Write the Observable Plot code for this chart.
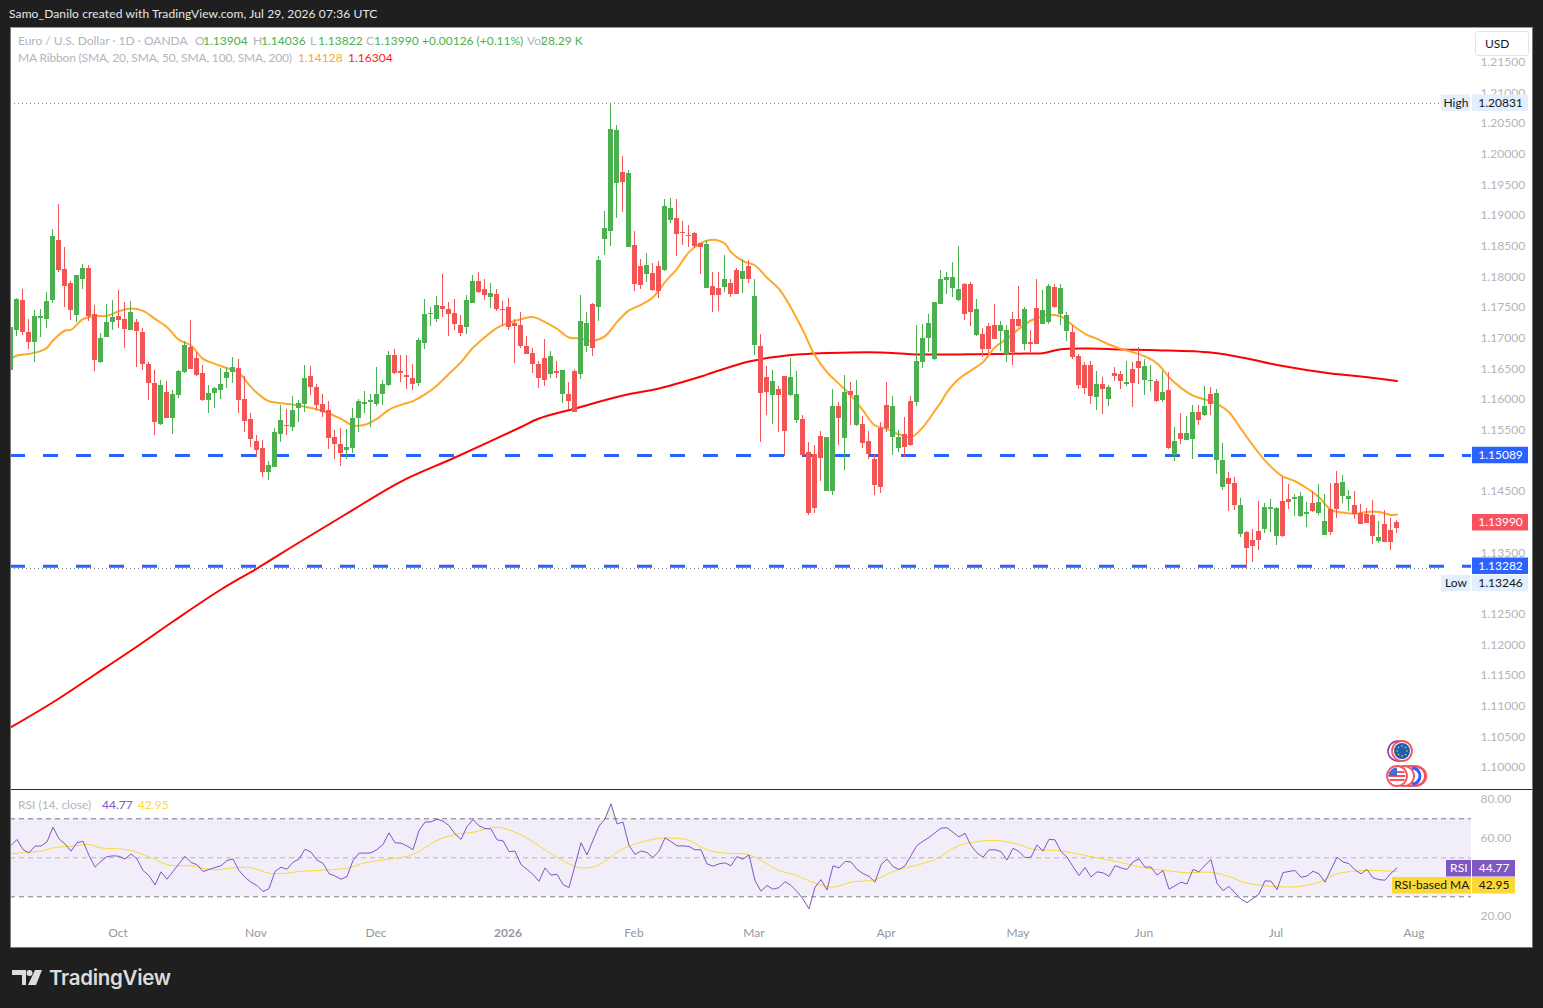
<!DOCTYPE html>
<html><head><meta charset="utf-8">
<script src="https://cdn.jsdelivr.net/npm/d3@7"></script>
<script src="https://cdn.jsdelivr.net/npm/@observablehq/plot@0.6"></script>
<style>
html,body{margin:0;padding:0;background:#1f1f1f;width:1543px;height:1008px;overflow:hidden;font-family:Lato,sans-serif;}
#panel{position:absolute;left:10px;top:27px;width:1523px;height:921px;background:#fff;}
#frame{position:absolute;left:10px;top:27px;width:1523px;height:921px;box-sizing:border-box;border:1px solid #7a7a7a;border-top-color:#9a9a9a;pointer-events:none;}
#sep{position:absolute;left:10px;top:789px;width:1523px;height:1px;background:#2a2e39;}
svg.p{position:absolute;}
.t{position:absolute;white-space:nowrap;font-size:12px;line-height:14px;}
.g{color:#b2b5be}.u{color:#4caf50}
#usd{position:absolute;left:1475px;top:31px;width:54px;height:25px;box-sizing:border-box;border:1px solid #e0e3eb;border-radius:3px;background:#fff;font-size:12px;line-height:24px;padding-left:9px;color:#131722;}
#logo{position:absolute;left:49px;top:964px;font:600 20.5px Inter,sans-serif;line-height:28px;color:#dcdcdc;letter-spacing:-0.3px;}
#by{position:absolute;left:9px;top:7px;font-size:12px;line-height:14px;color:#e6e6e6;white-space:nowrap;letter-spacing:.12px;}
</style></head><body>
<div id="panel"></div>
<div id="by">Samo_Danilo created with TradingView.com, Jul 29, 2026 07:36 UTC</div>
<script>
const direction = ("GGRRGGGGRRRGGRRGGGRRGRRRRGRGGGRRRGGGGGRRRRRGGGRGGGRRRRRRGGG"+"GGGGGRRRRGGGGRRRRGGRRGRRRRRRRRRGRGRRGGRGGGGRGRRGRRGGRRRRRGRRGRRGRGRRGRRGGRRRRGGRGRGRRRRRGGRRGGGGGGGGRRGRRRGGRRGRRGGRGGRRRRGRGRRGRRGGRGRGRGGRGRGGRRGRRRGGGRRGGGRGGRRGGRRRRGRRRGG").split("");
const highs = [1.17600,1.17654,1.17796,1.17306,1.17453,1.17469,1.17747,1.18774,1.19182,1.18480,
1.17926,1.18024,1.18203,1.18187,1.17535,1.17078,1.17551,1.17616,1.17779,1.17584,
1.17600,1.17306,1.17160,1.16605,1.16475,1.16311,1.16295,1.16148,1.16475,1.16947,
1.17290,1.16768,1.16556,1.16230,1.16197,1.16507,1.16523,1.16687,1.16654,1.16377,
1.15773,1.15415,1.15333,1.14985,1.15529,1.15904,1.15839,1.16051,1.15985,1.16556,
1.16540,1.16246,1.16083,1.15969,1.15496,1.15529,1.15512,1.15855,1.16002,1.16133,
1.16084,1.16524,1.16312,1.16785,1.16818,1.16720,1.16720,1.16573,1.16997,1.17633,
1.17503,1.17682,1.18041,1.17584,1.17633,1.17372,1.17698,1.18025,1.18073,1.17959,
1.17894,1.17796,1.17601,1.17650,1.17307,1.17421,1.17030,1.16834,1.16622,1.16981,
1.16785,1.16622,1.16475,1.16280,1.16492,1.17698,1.17421,1.17568,1.18334,1.19068,
1.20831,1.20471,1.19965,1.19737,1.18742,1.18285,1.18383,1.18220,1.18253,1.19264,
1.19280,1.19264,1.18905,1.18840,1.18726,1.18541,1.18595,1.18073,1.18073,1.18350,
1.17959,1.18138,1.18285,1.18269,1.17959,1.17062,1.16540,1.16475,1.16214,1.16377,
1.16671,1.16458,1.15741,1.15301,1.15252,1.15480,1.15382,1.16165,1.15953,1.16393,
1.16279,1.16312,1.15725,1.15480,1.15105,1.15627,1.16279,1.16051,1.15496,1.15708,
1.16051,1.17209,1.17225,1.17388,1.17584,1.18106,1.18073,1.18236,1.18497,1.17894,
1.17910,1.17633,1.17160,1.17241,1.17551,1.17274,1.17209,1.17421,1.17845,1.17502,
1.17127,1.17959,1.17779,1.17877,1.17877,1.17877,1.17420,1.17208,1.16735,1.16605,
1.16621,1.16458,1.16360,1.16230,1.16523,1.16458,1.16621,1.16605,1.16849,1.16654,
1.16556,1.16327,1.16458,1.16442,1.15545,1.15773,1.15724,1.15903,1.15903,1.16213,
1.16197,1.16164,1.15284,1.14811,1.14729,1.14387,1.13849,1.13881,1.14338,1.14305,
1.14370,1.14240,1.14729,1.14615,1.14452,1.14485,1.14322,1.14501,1.14615,1.14452,
1.14631,1.14827,1.14762,1.14517,1.14501,1.14289,1.14224,1.14354,1.14012,1.14191,
1.14061,1.14036];
const bodyTops = [1.17176,1.17632,1.17616,1.17094,1.17355,1.17355,1.17600,1.18660,1.18595,1.18122,
1.17893,1.18024,1.18138,1.18138,1.17388,1.16996,1.17257,1.17339,1.17355,1.17306,
1.17420,1.17257,1.17094,1.16572,1.16263,1.16230,1.16116,1.16083,1.16458,1.16882,
1.16850,1.16670,1.16426,1.16100,1.16181,1.16246,1.16442,1.16523,1.16507,1.16002,
1.15675,1.15317,1.15203,1.14925,1.15463,1.15659,1.15578,1.15822,1.15936,1.16344,
1.16377,1.16197,1.15920,1.15822,1.15382,1.15268,1.15219,1.15692,1.15969,1.15953,
1.15986,1.16084,1.16247,1.16720,1.16720,1.16459,1.16394,1.16345,1.16965,1.17389,
1.17405,1.17535,1.17519,1.17470,1.17405,1.17209,1.17617,1.17927,1.17927,1.17796,
1.17731,1.17715,1.17470,1.17503,1.17242,1.17209,1.16867,1.16753,1.16573,1.16671,
1.16704,1.16459,1.16475,1.16084,1.16459,1.17274,1.17242,1.17552,1.18269,1.18791,
1.20406,1.20389,1.19704,1.19688,1.18514,1.18171,1.18188,1.18057,1.18171,1.19150,
1.19117,1.18954,1.18726,1.18677,1.18710,1.18541,1.18530,1.17845,1.17812,1.17959,
1.17894,1.18106,1.18089,1.18171,1.17682,1.16866,1.16361,1.16295,1.16165,1.16377,
1.16361,1.16083,1.15676,1.15138,1.15105,1.15399,1.15382,1.15888,1.15888,1.16116,
1.16132,1.16067,1.15594,1.15317,1.15023,1.15529,1.15904,1.15888,1.15382,1.15431,
1.15969,1.16622,1.16997,1.17241,1.17584,1.17959,1.17992,1.17992,1.17796,1.17877,
1.17877,1.17470,1.17062,1.17192,1.17209,1.17209,1.17127,1.17307,1.17307,1.17470,
1.16932,1.17486,1.17453,1.17844,1.17828,1.17811,1.17371,1.17094,1.16703,1.16556,
1.16556,1.16246,1.16246,1.16197,1.16425,1.16409,1.16279,1.16491,1.16621,1.16539,
1.16311,1.16295,1.16115,1.16148,1.15316,1.15447,1.15447,1.15789,1.15789,1.15887,
1.16083,1.16099,1.15006,1.14713,1.14631,1.14273,1.13832,1.13702,1.13849,1.14240,
1.14240,1.14224,1.14338,1.14370,1.14403,1.14419,1.14158,1.14305,1.14322,1.14012,
1.14207,1.14631,1.14648,1.14419,1.14273,1.14142,1.14126,1.14110,1.13751,1.13963,
1.13865,1.13990];
const bodyBottoms = [1.16475,1.17127,1.17094,1.16931,1.16931,1.17323,1.17306,1.17616,1.18105,1.17844,
1.17453,1.17371,1.17959,1.17355,1.16638,1.16605,1.17013,1.17257,1.17290,1.17143,
1.17127,1.17110,1.16572,1.16263,1.15627,1.15594,1.15692,1.15692,1.16067,1.16442,
1.16491,1.16393,1.15985,1.15985,1.16100,1.16148,1.16344,1.16442,1.15985,1.15643,
1.15349,1.15170,1.14811,1.14811,1.14893,1.15431,1.15561,1.15545,1.15855,1.15920,
1.16197,1.15904,1.15790,1.15366,1.15268,1.15121,1.15170,1.15203,1.15692,1.15921,
1.15953,1.15921,1.16084,1.16231,1.16426,1.16426,1.16361,1.16247,1.16263,1.16916,
1.17389,1.17307,1.17470,1.17389,1.17225,1.17079,1.17177,1.17568,1.17747,1.17698,
1.17666,1.17470,1.17454,1.17177,1.17193,1.16867,1.16736,1.16573,1.16345,1.16312,
1.16410,1.16426,1.16084,1.15970,1.15790,1.16410,1.16867,1.16834,1.17503,1.18612,
1.18742,1.19525,1.19541,1.18481,1.17878,1.17861,1.18041,1.17780,1.17764,1.18106,
1.18921,1.18693,1.18710,1.18660,1.18497,1.18481,1.17812,1.17698,1.17698,1.17828,
1.17714,1.17714,1.17959,1.17959,1.16883,1.16100,1.16116,1.16067,1.16067,1.15480,
1.16067,1.15659,1.15089,1.14143,1.14224,1.15040,1.14502,1.14502,1.15692,1.15366,
1.16067,1.15578,1.15284,1.15105,1.14599,1.14567,1.15529,1.15382,1.15203,1.15219,
1.15252,1.15953,1.16605,1.16997,1.16654,1.17551,1.17943,1.17812,1.17616,1.17388,
1.17421,1.17046,1.16817,1.16817,1.16980,1.17111,1.16736,1.16768,1.17192,1.16899,
1.16899,1.16899,1.17224,1.17257,1.17502,1.17387,1.17110,1.16686,1.16230,1.16181,
1.16050,1.16034,1.16164,1.16001,1.16376,1.16295,1.16246,1.16262,1.16507,1.16311,
1.16295,1.15969,1.15985,1.15202,1.15088,1.15349,1.15333,1.15349,1.15659,1.15740,
1.15920,1.15006,1.14566,1.14615,1.14273,1.13800,1.13571,1.13604,1.13702,1.13881,
1.14207,1.13767,1.13767,1.14322,1.14370,1.14093,1.14126,1.14175,1.14142,1.13783,
1.13832,1.14207,1.14419,1.14370,1.14126,1.13963,1.13979,1.13767,1.13685,1.13669,
1.13669,1.13904];
const lows = [1.16475,1.17029,1.17045,1.16817,1.16605,1.17013,1.17160,1.17567,1.18073,1.17502,
1.17290,1.17257,1.17796,1.17274,1.16458,1.16589,1.17013,1.17127,1.17160,1.16833,
1.17127,1.16523,1.16475,1.15985,1.15415,1.15578,1.15692,1.15431,1.16018,1.16426,
1.16491,1.16377,1.15969,1.15773,1.15855,1.16002,1.16181,1.16263,1.15773,1.15463,
1.15219,1.15056,1.14730,1.14681,1.14893,1.15300,1.15415,1.15480,1.15627,1.15790,
1.16067,1.15822,1.15708,1.15186,1.15023,1.14909,1.15023,1.15121,1.15463,1.15774,
1.15546,1.15888,1.15905,1.16214,1.16410,1.16280,1.16165,1.16149,1.16214,1.16818,
1.17193,1.17258,1.17340,1.17030,1.17128,1.17030,1.17062,1.17568,1.17731,1.17617,
1.17486,1.17437,1.17193,1.17128,1.16589,1.16834,1.16736,1.16426,1.16182,1.16214,
1.16345,1.16345,1.15937,1.15839,1.15790,1.16329,1.16769,1.16704,1.17274,1.18351,
1.18497,1.18954,1.19052,1.18481,1.17764,1.17796,1.17910,1.17764,1.17650,1.18090,
1.18873,1.18334,1.18514,1.18481,1.18465,1.18040,1.17812,1.17421,1.17437,1.17747,
1.17665,1.17714,1.17731,1.17894,1.16719,1.15301,1.15741,1.15594,1.15464,1.15072,
1.16051,1.15611,1.15089,1.14110,1.14143,1.14665,1.14502,1.14436,1.15252,1.14844,
1.15578,1.15562,1.15203,1.15023,1.14436,1.14469,1.15464,1.15089,1.15138,1.15056,
1.15235,1.15888,1.16508,1.16768,1.16638,1.17551,1.17714,1.17665,1.17600,1.17290,
1.17192,1.17029,1.16687,1.16719,1.16980,1.16785,1.16605,1.16556,1.17176,1.16801,
1.16768,1.16899,1.17224,1.17224,1.17485,1.17208,1.16947,1.16654,1.16164,1.16083,
1.15920,1.15822,1.15757,1.15887,1.16295,1.16164,1.16213,1.15871,1.16246,1.16066,
1.16132,1.15952,1.15952,1.15186,1.14990,1.15267,1.15333,1.15023,1.15577,1.15724,
1.15740,1.14778,1.14517,1.14175,1.14191,1.13751,1.13246,1.13343,1.13539,1.13816,
1.13832,1.13620,1.13751,1.14207,1.14093,1.14077,1.13914,1.14158,1.14110,1.13783,
1.13783,1.14061,1.14305,1.14175,1.14044,1.13963,1.13979,1.13637,1.13653,1.13669,
1.13539,1.13822];
const sma20Bars = [0,1,3,5,6,7,9,10,12,14,16,18,20,22,24,26,28,30,32,34,36,38,40,42,43,45,48,52,55,57,59,61,63,65,67,69,71,73,75,77,79,81,83,85,87,89,91,93,95,97,99,101,103,105,107,109,111,113,115,117,119,120,122,124,126,128,130,132,134,136,138,140,142,144,146,148,150,152,154,155,156,158,160,162,164,166,168,170,171,173,175,177,179,181,183,185,187,189,191,193,195,197,199,201,203,205,207,209,211,212,214,216,218,220,222,224,226,228,230,231];
const sma20 = [1.16665,1.16719,1.16746,1.16795,1.16844,1.16964,1.17127,1.17138,1.17312,1.17361,1.17366,1.17442,1.17486,1.17448,1.17317,1.17181,1.16975,1.16882,1.16665,1.16583,1.16513,1.16431,1.16203,1.16029,1.15974,1.15942,1.15904,1.15811,1.15686,1.15578,1.15589,1.15687,1.15834,1.15915,1.15975,1.16084,1.16231,1.16421,1.16611,1.16845,1.17019,1.17171,1.17253,1.17312,1.17345,1.17264,1.17155,1.17013,1.16997,1.16959,1.17035,1.17264,1.17454,1.17546,1.17671,1.17916,1.18133,1.18405,1.18551,1.18606,1.18541,1.18405,1.18258,1.18187,1.17986,1.17807,1.17497,1.17127,1.16719,1.16448,1.16257,1.16067,1.15823,1.15578,1.15524,1.15431,1.15388,1.15551,1.15823,1.15958,1.16122,1.16339,1.16475,1.16611,1.16855,1.16991,1.17154,1.17290,1.17328,1.17382,1.17355,1.17208,1.17072,1.16991,1.16898,1.16828,1.16773,1.16703,1.16594,1.16365,1.16192,1.16066,1.16001,1.15931,1.15795,1.15523,1.15251,1.15006,1.14816,1.14746,1.14669,1.14555,1.14409,1.14202,1.14158,1.14137,1.14169,1.14169,1.14120,1.14128];
const sma200Bars = [0,7,14,21,27,35,41,48,56,65,74,85,88,94,102,108,115,117,123,128,131,140,145,150,156,161,169,172,175,180,185,191,200,206,211,220,225,231];
const sma200 = [1.10658,1.11065,1.11517,1.11974,1.12381,1.12903,1.13246,1.13670,1.14143,1.14664,1.15056,1.15553,1.15692,1.15855,1.16067,1.16181,1.16377,1.16442,1.16621,1.16703,1.16735,1.16768,1.16768,1.16740,1.16735,1.16740,1.16752,1.16757,1.16822,1.16833,1.16817,1.16806,1.16768,1.16670,1.16564,1.16426,1.16377,1.16304];
const rsi = [56.3,59.4,54.2,52.5,56.0,56.0,58.2,65.7,59.7,57.1,53.4,57.7,58.5,51.2,45.2,48.2,50.6,51.0,50.8,49.4,52.0,49.4,43.5,40.9,36.1,42.8,39.0,43.0,46.9,50.8,47.6,46.5,43.0,44.0,45.0,45.9,48.6,49.4,43.5,40.0,37.5,35.8,32.7,34.2,43.0,45.2,44.1,47.7,49.4,54.4,52.9,48.8,47.2,41.9,40.7,39.0,40.4,48.6,52.4,52.4,52.5,54.2,56.8,62.8,57.7,57.5,56.1,54.1,64.0,68.3,68.4,69.8,68.8,66.5,62.3,59.4,66.0,69.6,66.4,65.0,64.8,59.2,58.7,53.2,53.4,46.5,
44.1,41.4,38.0,44.8,41.1,41.6,36.3,34.7,46.0,57.7,51.5,58.9,66.2,70.0,77.7,67.4,68.3,56.3,51.7,53.5,52.7,50.1,53.4,60.2,58.3,56.1,56.1,55.8,54.1,54.1,46.9,45.7,46.9,47.4,45.9,50.6,49.3,51.5,38.3,32.9,35.8,33.9,34.7,37.8,35.8,32.7,28.9,23.8,34.9,38.8,33.5,45.9,44.8,48.1,47.9,44.1,41.9,40.5,37.5,46.4,49.3,45.5,44.0,45.9,51.2,56.3,58.5,60.4,62.8,65.2,65.4,63.1,60.7,62.6,56.3,52.5,50.3,54.1,54.1,53.2,48.9,54.9,53.2,
50.1,50.3,56.6,53.4,59.5,59.2,53.2,50.3,45.5,40.9,45.0,40.2,42.8,42.3,40.4,46.0,44.8,44.0,47.9,49.4,45.3,45.2,41.1,43.5,33.9,35.6,37.5,36.6,44.0,42.8,46.2,49.1,36.9,33.2,35.3,32.0,28.8,27.0,29.1,31.5,38.2,38.0,33.7,42.4,43.0,43.5,40.0,40.7,43.1,41.8,37.5,44.0,50.3,47.9,47.0,43.8,41.8,44.0,39.7,38.8,38.5,42.1,44.77];
const rsiMaBars = [0,3,5,7,10,13,15,18,20,22,24,26,28,30,32,34,37,40,43,46,48,51,56,59,63,67,71,74,77,81,84,85,88,89,94,96,98,102,105,108,110,113,116,119,123,128,131,134,137,140,144,147,154,158,164,168,170,175,179,184,189,193,196,200,203,206,214,218,221,226,231];
const rsiMa = [52.0,52.9,53.4,55.1,56.0,56.8,55.1,54.6,53.7,51.7,49.1,46.5,45.9,45.9,44.7,43.8,44.8,45.0,42.1,42.1,43.0,43.5,44.7,47.4,49.3,51.7,58.9,61.9,63.1,65.7,63.1,61.8,56.3,54.1,45.5,44.8,46.5,54.6,58.0,60.0,60.2,58.9,54.1,52.4,51.5,43.5,40.9,37.0,34.9,37.5,38.8,43.0,49.1,56.3,58.9,56.8,54.6,53.5,51.2,48.2,44.8,43.3,42.3,42.6,40.4,37.0,35.1,37.5,41.8,43.5,42.95];
const priceTicks = [1.10,1.105,1.11,1.115,1.12,1.125,1.135,1.145,1.155,1.16,1.165,1.17,1.175,1.18,1.185,1.19,1.195,1.20,1.205,1.21,1.215];
const rsiTicks = [80,60,20];
const monthBars = [18,41,61,104,124,146,168,189,211,234];
const monthNames = ["Oct","Nov","Dec","Feb","Mar","Apr","May","Jun","Jul","Aug"];
const yearBars = [83];
const yearNames = ["2026"];
const blueLevels = [1.15089,1.13282];
const extremeLevels = [1.20831,1.13246];

const UP="#4caf50", DOWN="#f15555", FONT="Lato,sans-serif", AXIS="#b2b5be";
const bars = highs.map((h,i)=>({i,h,t:bodyTops[i],b:bodyBottoms[i],l:lows[i],c:direction[i]==="G"?UP:DOWN}));
const pairs=(a,b)=>a.map((x,k)=>({x,y:b[k]}));
const X0=-1/12, X1=243.4167, PANE=1461, W=1523;
const xs={domain:[X0,X1],range:[0,PANE],axis:null,label:null};
const TAG0=243.58,TAG1=252.92,TAGC=248.25,LAB0=238.42,LAB1=243.25,LABC=240.83;
function tag(y,text,bg,fg,x0=TAG0,x1=TAG1,xc=TAGC){return [
 Plot.ruleY([y],{x1:x0,x2:x1,stroke:bg,strokeWidth:16.5,dy:-0.5}),
 Plot.text([y],{x:xc,y:d=>d,text:()=>text,fill:fg,fontSize:12,fontFamily:FONT,dy:-0.5})];}
const main=Plot.plot({width:W,height:762,marginTop:0,marginBottom:0,marginLeft:0,marginRight:W-PANE,
 style:{background:"transparent",fontFamily:FONT,fontSize:"12px",overflow:"hidden"},
 x:xs,y:{domain:[1.09642,1.22068],range:[762,0],axis:null,label:null},
 marks:[
  Plot.axisY(priceTicks,{anchor:"right",tickSize:0,tickPadding:9,tickFormat:d=>d.toFixed(5),fill:AXIS,fontSize:12,fontFamily:FONT,label:null}),
  Plot.ruleY(extremeLevels,{x1:X0,x2:238.2,stroke:"#787b86",strokeWidth:1,strokeDasharray:"1,3"}),
  Plot.ruleY(blueLevels,{x1:X0,x2:X1,stroke:"#2962ff",strokeWidth:3,strokeDasharray:"15,18"}),
  Plot.line(pairs(sma200Bars,sma200),{x:"x",y:"y",stroke:"#ff0000",strokeWidth:2,curve:"catmull-rom"}),
  Plot.line(pairs(sma20Bars,sma20),{x:"x",y:"y",stroke:"#ffa726",strokeWidth:2,curve:"catmull-rom"}),
  Plot.ruleX(bars,{x:"i",y1:"l",y2:"h",stroke:"c",strokeWidth:1,dx:-0.5,shapeRendering:"crispEdges"}),
  Plot.rect(bars,{x1:d=>d.i-0.41667,x2:d=>d.i+0.41667,y1:"b",y2:"t",fill:"c",shapeRendering:"crispEdges"}),
  ...tag(1.20831,"1.20831","#e3effd","#131722"),
  ...tag(1.20831,"High","#e3effd","#131722",LAB0,LAB1,LABC),
  ...tag(1.15089,"1.15089","#2962ff","#ffffff"),
  ...tag(1.13990,"1.13990","#f7525f","#ffffff"),
  ...tag(1.13282,"1.13282","#2962ff","#ffffff"),
  ...tag(1.13000,"1.13246","#e3effd","#131722"),
  ...tag(1.13000,"Low","#e3effd","#131722",LAB0,LAB1,LABC)
 ]});
main.setAttribute("class","p");main.style.left="10px";main.style.top="27px";
document.body.appendChild(main);

const rsiRows=rsi.map((v,i)=>({i,v}));
const over=rsiRows.slice(98,103).map(d=>({i:d.i,v:Math.max(d.v,70)}));
const RSI_TAG1=250.75,RSI_TAGC=247.17;
const lower=Plot.plot({width:W,height:157,marginTop:0,marginBottom:23,marginLeft:0,marginRight:W-PANE,
 style:{background:"transparent",fontFamily:FONT,fontSize:"12px",overflow:"hidden"},
 x:xs,y:{domain:[15.8,84.5],range:[134,0],axis:null,label:null},
 marks:[
  Plot.axisX(monthBars,{anchor:"bottom",tickSize:0,tickPadding:4,dx:-1,tickFormat:d=>monthNames[monthBars.indexOf(d)],fill:"#9598a1",fontSize:12,fontFamily:FONT,label:null}),
  Plot.axisX(yearBars,{anchor:"bottom",tickSize:0,tickPadding:4,dx:-1,tickFormat:d=>yearNames[yearBars.indexOf(d)],fill:"#9598a1",fontSize:12,fontWeight:"bold",fontFamily:FONT,label:null}),
  Plot.axisY(rsiTicks,{anchor:"right",tickSize:0,tickPadding:9,tickFormat:d=>d.toFixed(2),fill:AXIS,fontSize:12,fontFamily:FONT,label:null}),
  Plot.rect([0],{x1:X0,x2:X1,y1:()=>30,y2:()=>70,fill:"#7e57c2",fillOpacity:0.1}),
  Plot.areaY(over,{x:"i",y1:()=>70,y2:"v",fill:"#4caf50",fillOpacity:0.12}),
  Plot.ruleY([70,30],{x1:X0,x2:X1,stroke:"#787b86",strokeWidth:1,strokeDasharray:"5,4"}),
  Plot.ruleY([50],{x1:X0,x2:X1,stroke:"#787b86",strokeOpacity:0.5,strokeWidth:1,strokeDasharray:"5,4"}),
  Plot.line(pairs(rsiMaBars,rsiMa),{x:"x",y:"y",stroke:"#fdd835",strokeWidth:1,curve:"catmull-rom"}),
  Plot.line(rsiRows,{x:"i",y:"v",stroke:"#7e57c2",strokeWidth:1}),
  ...tag(44.4,"44.77","#7e57c2","#ffffff",TAG0,RSI_TAG1,RSI_TAGC),
  ...tag(44.4,"RSI","#7e57c2","#ffffff",239.25,243.42,241.3),
  ...tag(35.7,"42.95","#fdd835","#131722",TAG0,RSI_TAG1,RSI_TAGC),
  ...tag(35.7,"RSI-based MA","#fdd835","#131722",230.25,243.42,236.8)
 ]});
lower.setAttribute("class","p");lower.style.left="10px";lower.style.top="790px";
document.body.appendChild(lower);

const legend=[
 [18,34,"g","Euro / U.S. Dollar · 1D · OANDA"],[195,34,"g","O"],[203,34,"u","1.13904"],[253,34,"g","H"],[261,34,"u","1.14036"],[310,34,"g","L"],[318,34,"u","1.13822"],[366,34,"g","C"],[374,34,"u","1.13990"],[422,34,"u","+0.00126 (+0.11%)"],[527,34,"g","Vol"],[541,34,"u","28.29 K"],
 [18,51,"g","MA Ribbon (SMA, 20, SMA, 50, SMA, 100, SMA, 200)",null,-0.17],[298,51,"","1.14128","#ffa726"],[348,51,"","1.16304","#ff1a1a"],
 [18,798,"g","RSI (14, close)"],[102,798,"","44.77","#7e57c2"],[138,798,"","42.95","#fdd835"]];
for(const [l,t,c,s,col,sp] of legend){const e=document.createElement("div");e.className="t "+c;e.style.left=l+"px";e.style.top=t+"px";if(col)e.style.color=col;if(sp)e.style.letterSpacing=sp+"px";e.textContent=s;document.body.appendChild(e);}
</script>
<div id="sep"></div>
<div id="usd">USD</div>
<svg style="position:absolute;left:1380px;top:738px" width="50" height="50" viewBox="0 0 50 50">
 <defs><clipPath id="cu"><circle cx="17" cy="38" r="8.5"/></clipPath></defs>
 <circle cx="18" cy="13" r="10" fill="#fff" stroke="#9c27b0" stroke-width="1.5"/>
 <circle cx="22" cy="13" r="10" fill="#fff" stroke="#f7525f" stroke-width="1.8"/>
 <circle cx="22" cy="13" r="8" fill="#1a5fb4"/>
 <g fill="#ffd600"><circle cx="22" cy="8" r=".8"/><circle cx="27" cy="13" r=".8"/><circle cx="22" cy="18" r=".8"/><circle cx="17" cy="13" r=".8"/><circle cx="25.5" cy="9.5" r=".8"/><circle cx="18.5" cy="9.5" r=".8"/><circle cx="25.5" cy="16.5" r=".8"/><circle cx="18.5" cy="16.5" r=".8"/></g>
 <circle cx="35" cy="38" r="10" fill="#fff" stroke="#f7525f" stroke-width="1.8"/>
 <path d="M37 29a9 9 0 0 1 0 18" fill="none" stroke="#f7525f" stroke-width="2.5"/>
 <circle cx="30" cy="38" r="10" fill="#fff" stroke="#f7525f" stroke-width="1.8"/>
 <path d="M32 30a8 8 0 0 1 0 16" fill="none" stroke="#2962ff" stroke-width="3"/>
 <circle cx="24" cy="38" r="10" fill="#fff" stroke="#f7525f" stroke-width="1.8"/>
 <circle cx="17" cy="38" r="10" fill="#fff" stroke="#f7525f" stroke-width="1.8"/>
 <g clip-path="url(#cu)"><rect x="8" y="29" width="18" height="18" fill="#fff"/><rect x="8" y="33" width="18" height="2" fill="#f7525f"/><rect x="8" y="37" width="18" height="2" fill="#f7525f"/><rect x="8" y="41" width="18" height="2" fill="#f7525f"/><rect x="8" y="29" width="9" height="9" fill="#3f6fd8"/></g>
</svg>
<div id="frame"></div>
<svg style="position:absolute;left:12px;top:970px" width="31" height="16" viewBox="0 0 31 16">
 <path d="M0 0H14V15H10V5H0Z M23 0H30L24 15H16Z" fill="#dcdcdc"/><circle cx="17.5" cy="3" r="3" fill="#dcdcdc"/>
</svg>
<div id="logo">TradingView</div>
</body></html>
